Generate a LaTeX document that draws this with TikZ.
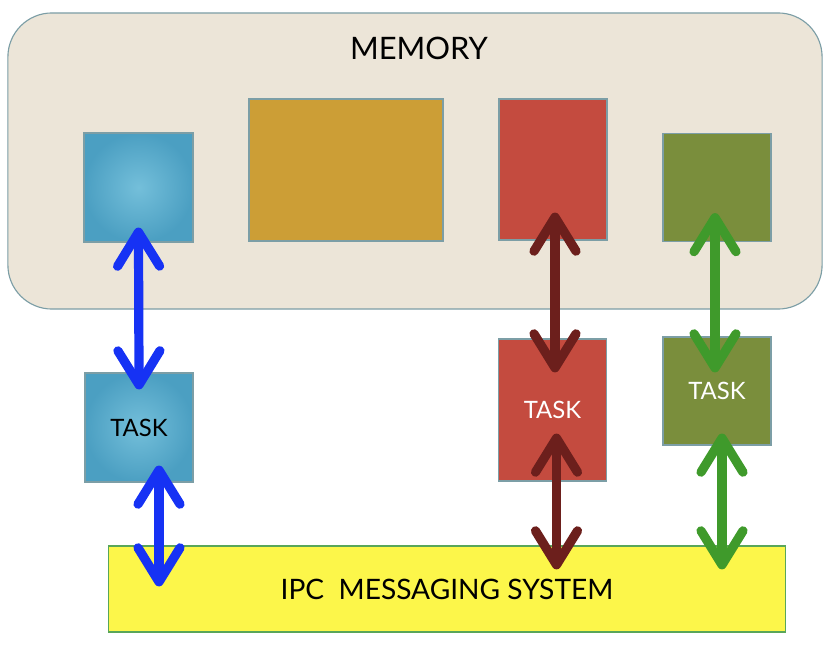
\documentclass[tikz,border=0pt]{standalone}
\usepackage{fontspec}
\setmainfont{Lato}
\usepackage{xcolor}
\usetikzlibrary{positioning, arrows.meta}

\definecolor{memfill}{HTML}{ECE5D8}
\definecolor{edgegray}{HTML}{7C9EA6}
\definecolor{cellblue}{HTML}{4B9FC2}
\definecolor{cellbluelight}{HTML}{74BFDA}
\definecolor{cellgold}{HTML}{CC9E36}
\definecolor{cellred}{HTML}{C44B3F}
\definecolor{cellgreen}{HTML}{7A8E3C}
\definecolor{ipcyellow}{HTML}{FCF64A}
\definecolor{arrowblue}{HTML}{1632F4}
\definecolor{arrowred}{HTML}{6C1F1C}
\definecolor{arrowgreen}{HTML}{3F9A2B}

\begin{document}
\begin{tikzpicture}[
        x=0.025cm, y=-0.025cm,
        block/.style={rectangle, draw=edgegray, line width=0.8pt, inner sep=0pt},
        blueblock/.style={block, inner color=cellbluelight, outer color=cellblue},
        link/.style={line width=0.23cm,
                {Straight Barb[length=0.85cm, width=1.05cm, round]}-{Straight Barb[length=0.85cm, width=1.05cm, round]}},
        tasktext/.style={font=\fontsize{17}{20}\selectfont}
    ]
    \useasboundingbox (0,0) rectangle (824,656);

    % Memory
    \node[block, fill=memfill, rounded corners=1.1cm, minimum width=20.35cm, minimum height=7.4cm] (memory) at (415,161) {};
    \node[font=\fontsize{22}{26}\selectfont] (mem_title) at (419,48) {MEMORY};

    \node[blueblock, minimum width=2.725cm, minimum height=2.725cm] (mem_blue) at (138.5,187.5) {};
    \node[block, fill=cellgold, minimum width=4.85cm, minimum height=3.55cm] (mem_gold) at (346,170) {};
    \node[block, fill=cellred, minimum width=2.7cm, minimum height=3.525cm] (mem_red) at (553,169.5) {};
    \node[block, fill=cellgreen, minimum width=2.7cm, minimum height=2.7cm] (mem_green) at (717,187.5) {};

    % Tasks
    \node[blueblock, tasktext, minimum width=2.7cm, minimum height=2.725cm] (task_blue) at (139,427.5) {TASK};
    \node[block, fill=cellred, tasktext, text=white, minimum width=2.7cm, minimum height=3.55cm] (task_red) at (552.5,410) {TASK};
    \node[block, fill=cellgreen, tasktext, text=white, minimum width=2.7cm, minimum height=2.7cm] (task_green) at (717,391) {TASK};

    % IPC
    \node[block, fill=ipcyellow, draw=gray!70!green, minimum width=16.9cm, minimum height=2.15cm,
        font=\fontsize{20}{24}\selectfont] (ipc) at (447,589) {IPC\ \ MESSAGING SYSTEM};

    % Links
    \draw[link, arrowblue, shorten <=-0.375cm, shorten >=-0.425cm] (mem_blue.south) -- (task_blue.north);
    \draw[link, arrowblue, shorten <=-0.425cm, shorten >=-1.025cm]
        ([xshift=0.5cm]task_blue.south) -- ([xshift=0.5cm]task_blue.south |- ipc.north);
    \draw[link, arrowred, shorten <=-0.7cm, shorten >=-0.85cm]
        ([xshift=0.05cm]mem_red.south) -- ([xshift=0.05cm]mem_red.south |- task_red.north);
    \draw[link, arrowred, shorten <=-1.2cm, shorten >=-0.6cm]
        ([xshift=0.1cm]task_red.south) -- ([xshift=0.1cm]task_red.south |- ipc.north);
    \draw[link, arrowgreen, shorten <=-0.725cm, shorten >=-0.9cm]
        ([xshift=-0.05cm]mem_green.south) -- ([xshift=-0.05cm]mem_green.south |- task_green.north);
    \draw[link, arrowgreen, shorten <=-0.3cm, shorten >=-0.6cm]
        ([xshift=0.125cm]task_green.south) -- ([xshift=0.125cm]task_green.south |- ipc.north);
\end{tikzpicture}
\end{document}
